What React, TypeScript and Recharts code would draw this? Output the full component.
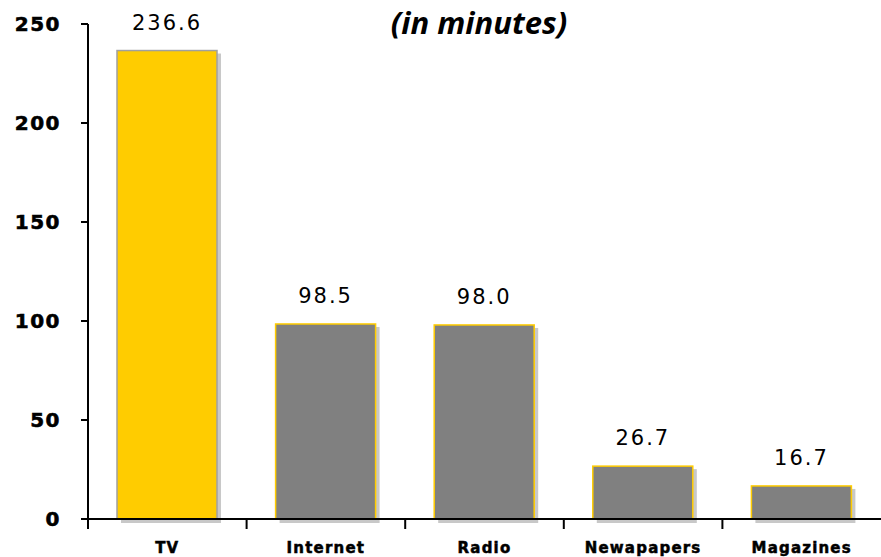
import React from 'react';
import { BarChart, Bar, XAxis, YAxis, LabelList, Cell } from 'recharts';

const categories = ['TV', 'Internet', 'Radio', 'Newapapers', 'Magazines'];
const minutes = [236.6, 98.5, 98.0, 26.7, 16.7];
const yTicks = [0, 50, 100, 150, 200, 250];
const title = '(in minutes)';

const data = categories.map((name, i) => ({ name, value: minutes[i] }));

const BarShape = (props: any) => {
  const { x, y, width, height, fill, stroke } = props;
  if (!(height > 0)) return null;
  return (
    <g>
      <rect x={x + 4} y={y + 3} width={width} height={height + 1} fill="#C8C8C8" />
      <rect x={x} y={y} width={width} height={height} fill={fill} stroke={stroke} strokeWidth={1.5} />
    </g>
  );
};

const XTick = (props: any) => {
  const { x, y, payload } = props;
  const half = payload && payload.offset ? payload.offset : 79.3;
  return (
    <g>
      <line x1={x - half} x2={x - half} y1={y - 8} y2={y + 2} stroke="#000" strokeWidth={2} />
      <text x={x} y={y + 26} textAnchor="middle" fontFamily="DejaVu Sans" fontWeight="bold" fontSize={15} letterSpacing={1.2} fill="#000" stroke="#000" strokeWidth={0.5}>
        {payload.value}
      </text>
    </g>
  );
};

const YTick = (props: any) => {
  const { x, y, payload } = props;
  return (
    <text x={x - 18} y={y} dy={7} textAnchor="end" fontFamily="DejaVu Sans" fontWeight="bold" fontSize={20} letterSpacing={1.5} fill="#000" stroke="#000" strokeWidth={0.6}>
      {payload.value}
    </text>
  );
};

export default function App() {
  return (
    <div style={{ position: 'absolute', left: 0, top: 0, width: 881, height: 557, background: '#fff' }}>
      <BarChart width={881} height={557} data={data} margin={{ top: 24, right: 0, bottom: 0, left: 0 }}>
        <XAxis
          dataKey="name"
          axisLine={{ stroke: '#000', strokeWidth: 2 }}
          tickLine={false}
          tick={<XTick />}
          height={38}
          interval={0}
        />
        <YAxis
          domain={[0, 250]}
          ticks={yTicks}
          width={88}
          axisLine={{ stroke: '#000', strokeWidth: 2 }}
          tickLine={{ stroke: '#000', strokeWidth: 2 }}
          tickSize={7}
          tick={<YTick />}
          interval={0}
        />
        <Bar dataKey="value" barSize={100} isAnimationActive={false} shape={<BarShape />}>
          {data.map((d, i) => (
            <Cell key={d.name} fill={i === 0 ? '#FFCC00' : '#808080'} stroke={i === 0 ? '#A0A0A0' : '#FFCC00'} />
          ))}
          <LabelList
            dataKey="value"
            position="top"
            offset={21}
            formatter={(v: any) => Number(v).toFixed(1)}
            style={{ fontFamily: 'DejaVu Sans', fontSize: 21, letterSpacing: 2, fill: '#000' }}
          />
        </Bar>
      </BarChart>
      <div
        style={{
          position: 'absolute',
          left: 379,
          top: 0,
          width: 200,
          textAlign: 'center',
          fontFamily: '"Open Sans"',
          fontStyle: 'italic',
          fontWeight: 'bold',
          fontSize: 31,
          lineHeight: '44px',
          whiteSpace: 'nowrap',
          color: '#000',
        }}
      >
        {title}
      </div>
    </div>
  );
}
